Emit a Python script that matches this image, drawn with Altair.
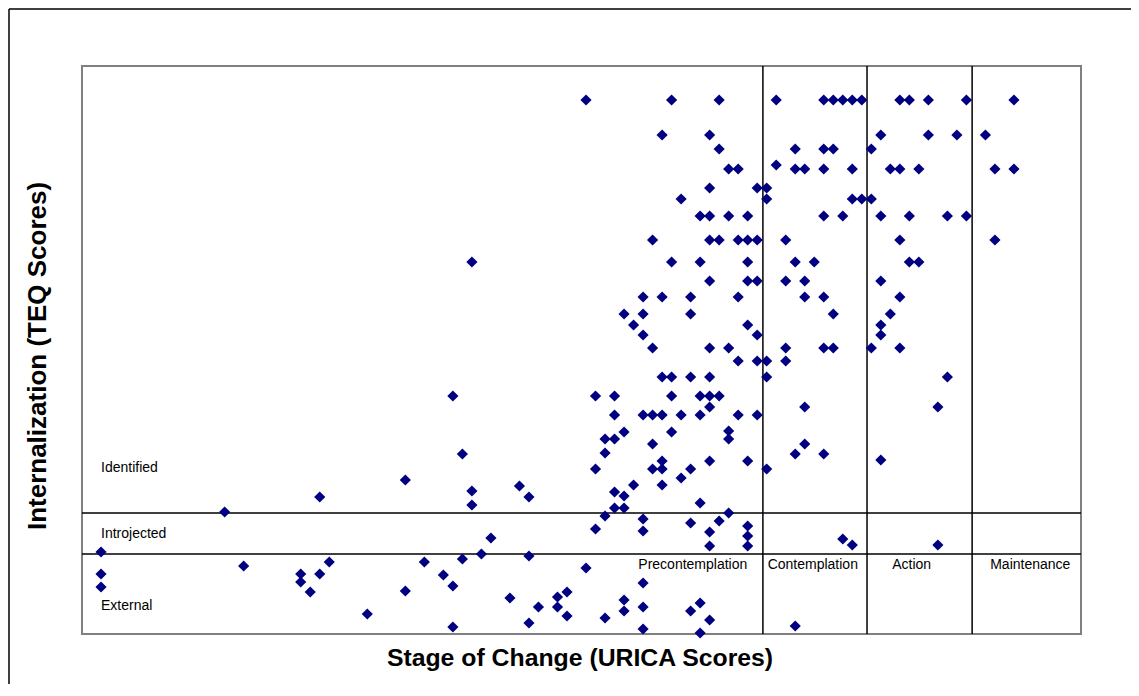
import altair as alt
import pandas as pd

# URICA stage score (x) and TEQ internalization score (y)
urica = [
    51, 60, 65, 71, 76, 77, 78, 79, 80, 84, 85, 87, 91, 96,
    59, 64, 82, 87, 90, 93,
    65, 73, 76, 77, 81,
    71, 66, 67, 73, 74, 76, 79, 83, 84, 86, 94, 96,
    64, 69, 70,
    61, 70, 79, 80, 81,
    63, 64, 66, 68, 76, 78, 82, 85, 89, 91,
    58, 64, 65, 67, 68, 69, 72, 84, 94,
    39, 60, 63, 68, 73, 75, 85, 86,
    64, 68, 69, 72, 74, 82,
    57, 59, 62, 67, 74, 76, 84,
    55, 57, 62, 77, 83,
    56, 68, 82,
    57, 69, 82,
    58, 64, 66, 72, 76, 77, 81, 84,
    67, 69, 70, 72,
    59, 60, 62, 64, 70, 89,
    37, 52, 54, 60, 63, 64, 65,
    64, 74, 88,
    54, 57, 58, 59, 61, 63, 67, 69,
    55, 60, 66,
    53, 54, 66,
    58, 74,
    38, 53, 73, 76,
    59, 64, 68, 82,
    52, 58, 59, 62, 70,
    61, 32, 56, 59, 44, 39, 54, 55, 23, 45, 63, 39, 54, 55, 13, 66,
    53, 57, 65, 62, 68, 52, 57, 64, 68, 41, 78, 79, 88, 64, 68,
    0, 40, 45, 38, 24, 34, 15, 51, 0, 21, 23, 36, 21, 57, 37, 0,
    32, 22, 49, 48, 43, 55, 63, 46, 48, 57, 55, 62, 28, 49, 53, 64,
    45, 73, 37, 57, 63,
]
teq = [
    53.4, 53.4, 53.4, 53.4, 53.4, 53.4, 53.4, 53.4, 53.4, 53.4, 53.4, 53.4, 53.4, 53.4,
    49.9, 49.9, 49.9, 49.9, 49.9, 49.9,
    48.5, 48.5, 48.5, 48.5, 48.5,
    46.9, 46.5, 46.5, 46.5, 46.5, 46.5, 46.5, 46.5, 46.5, 46.5, 46.5, 46.5,
    44.6, 44.6, 44.6,
    43.5, 43.5, 43.5, 43.5, 43.5,
    41.8, 41.8, 41.8, 41.8, 41.8, 41.8, 41.8, 41.8, 41.8, 41.8,
    39.4, 39.4, 39.4, 39.4, 39.4, 39.4, 39.4, 39.4, 39.4,
    37.2, 37.2, 37.2, 37.2, 37.2, 37.2, 37.2, 37.2,
    35.3, 35.3, 35.3, 35.3, 35.3, 35.3,
    33.7, 33.7, 33.7, 33.7, 33.7, 33.7, 33.7,
    32.0, 32.0, 32.0, 32.0, 32.0,
    30.9, 30.9, 30.9,
    29.9, 29.9, 29.9,
    28.6, 28.6, 28.6, 28.6, 28.6, 28.6, 28.6, 28.6,
    27.3, 27.3, 27.3, 27.3,
    25.7, 25.7, 25.7, 25.7, 25.7, 25.7,
    23.8, 23.8, 23.8, 23.8, 23.8, 23.8, 23.8,
    22.7, 22.7, 22.7,
    21.9, 21.9, 21.9, 21.9, 21.9, 21.9, 21.9, 21.9,
    20.2, 20.2, 20.3,
    19.5, 19.5, 19.5,
    19.0, 19.0,
    18.0, 18.1, 18.0, 18.0,
    17.3, 17.3, 17.3, 17.4,
    16.5, 16.5, 16.5, 16.5, 16.5,
    15.6, 15.4, 14.9, 14.9, 14.8, 14.3, 14.2, 13.8, 13.7, 13.7, 13.1, 12.9, 12.6, 12.6, 12.2, 12.1,
    11.8, 11.5, 11.3, 11.1, 10.8, 10.5, 10.3, 10.2, 9.8, 9.6, 9.5, 8.9, 8.9, 8.8, 8.8,
    8.2, 8.0, 7.8, 7.5, 7.2, 7.2, 6.8, 6.6, 6.0, 6.0, 6.0, 5.9, 5.2, 5.1, 4.8, 4.7,
    4.3, 4.2, 4.2, 3.7, 3.6, 3.4, 3.1, 2.7, 2.7, 2.7, 2.3, 2.3, 2.0, 1.8, 1.6, 1.4,
    1.1, 0.8, 0.7, 0.5, 0.1,
]

# stage cut-offs on the URICA axis and motivation cut-offs on the TEQ axis
stage_cuts = [69.6, 80.55, 91.6]
teq_cuts = [12.1, 8.0]

# region labels
label_text = ["Identified", "Introjected", "External",
              "Precontemplation", "Contemplation", "Action", "Maintenance"]
label_x = [0, 0, 0, 56.5, 70.1, 83.2, 93.5]
label_y = [16.6, 10.0, 2.8, 6.9, 6.9, 6.9, 6.9]

x_title = "Stage of Change (URICA Scores)"
y_title = "Internalization (TEQ Scores)"

pts = pd.DataFrame({"urica": urica, "teq": teq})
vcut = pd.DataFrame({"cut": stage_cuts})
hcut = pd.DataFrame({"cut": teq_cuts})
labels = pd.DataFrame({"text": label_text, "x": label_x, "y": label_y})

xs = alt.Scale(domain=[-2, 103.05], nice=False, zero=False)
ys = alt.Scale(domain=[0, 56.8], nice=False, zero=False)

FONT = "Liberation Sans"

vrules = alt.Chart(vcut).mark_rule(color="black", strokeWidth=1.5).encode(
    x=alt.X("cut:Q", scale=xs, axis=None))
hrules = alt.Chart(hcut).mark_rule(color="black", strokeWidth=1.5).encode(
    y=alt.Y("cut:Q", scale=ys, axis=None))

points = alt.Chart(pts).mark_point(
    shape="diamond", filled=True, size=125, color="#000080", opacity=1
).encode(
    x=alt.X("urica:Q", scale=xs, axis=None),
    y=alt.Y("teq:Q", scale=ys, axis=None),
)

texts = alt.Chart(labels).mark_text(
    align="left", baseline="middle", fontSize=14, font=FONT, color="#000000"
).encode(
    x=alt.X("x:Q", scale=xs, axis=None),
    y=alt.Y("y:Q", scale=ys, axis=None),
    text="text:N",
)

xt = alt.Chart(pd.DataFrame({"t": [x_title]})).mark_text(
    align="center", baseline="alphabetic", fontSize=24.8, fontWeight="bold",
    font=FONT, color="#000000"
).encode(x=alt.value(498), y=alt.value(600), text="t:N")

yt = alt.Chart(pd.DataFrame({"t": [y_title]})).mark_text(
    align="center", baseline="alphabetic", fontSize=26, fontWeight="bold",
    font=FONT, color="#000000", angle=270
).encode(x=alt.value(-36), y=alt.value(290), text="t:N")

# outer chart frame (left and top edges visible)
frame_l = alt.Chart(pd.DataFrame({"a": [0]})).mark_rule(color="black", strokeWidth=1.5).encode(
    x=alt.value(-73), y=alt.value(-57), y2=alt.value(700))
frame_t = alt.Chart(pd.DataFrame({"a": [0]})).mark_rule(color="black", strokeWidth=1.5).encode(
    x=alt.value(-73), x2=alt.value(1200), y=alt.value(-57))

chart = alt.layer(
    vrules, hrules, texts, points, xt, yt, frame_l, frame_t
).properties(
    width=999, height=568,
    autosize=alt.AutoSizeParams(type="none"),
    padding={"left": 74, "top": 58, "right": 50, "bottom": 50},
    background="white",
).configure_view(
    stroke="#808080", strokeWidth=2
)

chart.save("out.html", embed_options={"renderer": "svg", "actions": False})
